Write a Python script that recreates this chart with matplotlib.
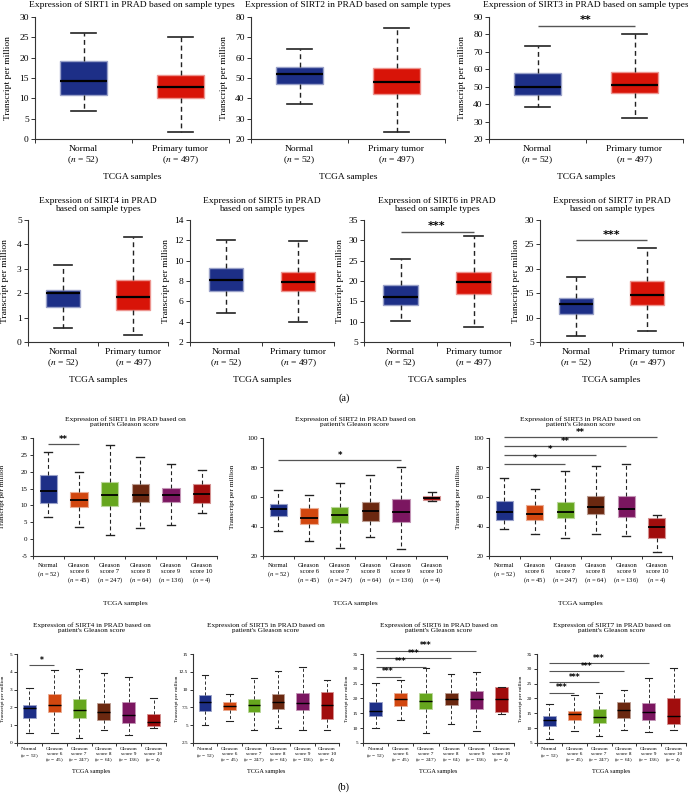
import matplotlib
matplotlib.use('Agg')
import matplotlib.pyplot as plt
from matplotlib.ticker import FixedLocator, FuncFormatter
import numpy as np

plt.rcParams['font.family'] = ['Liberation Serif', 'DejaVu Serif']
plt.rcParams['mathtext.fontset'] = 'stix'

# ---------------- data ----------------
sample_labels = ["Normal\n($n$ = 52)", "Primary tumor\n($n$ = 497)"]
gleason_labels = ["Normal\n($n$ = 52)", "Gleason\nscore 6\n($n$ = 45)", "Gleason\nscore 7\n($n$ = 247)",
                  "Gleason\nscore 8\n($n$ = 64)", "Gleason\nscore 9\n($n$ = 136)", "Gleason\nscore 10\n($n$ = 4)"]

# five-number summaries: [lower whisker, Q1, median, Q3, upper whisker]
sirt1_type = [[6.8, 10.8, 14.2, 19.3, 26.0], [1.8, 10.2, 12.7, 15.7, 25.0]]
sirt2_type = [[37.0, 47.2, 51.8, 55.3, 64.2], [23.5, 42.3, 47.9, 54.8, 74.8]]
sirt3_type = [[38.3, 45.0, 50.1, 57.6, 73.1], [32.2, 46.2, 51.2, 58.2, 80.5]]
sirt4_type = [[0.57, 1.45, 2.0, 2.12, 3.15], [0.3, 1.32, 1.86, 2.53, 4.32]]
sirt5_type = [[4.9, 7.0, 8.1, 9.25, 12.0], [4.0, 7.0, 7.9, 8.85, 11.9]]
sirt6_type = [[10.2, 14.2, 16.0, 19.1, 25.4], [8.6, 16.8, 19.8, 22.2, 31.0]]
sirt7_type = [[6.3, 10.7, 12.7, 14.1, 18.3], [7.3, 12.5, 14.7, 17.5, 24.3]]

sirt1_gleason = [[6.7, 10.7, 14.2, 19.1, 25.9], [3.6, 9.6, 11.6, 14.1, 20.0], [1.1, 9.9, 13.2, 16.9, 27.8],
                 [3.3, 10.9, 13.0, 16.3, 24.4], [4.3, 10.9, 13.0, 15.3, 22.2], [7.8, 10.6, 13.3, 16.3, 20.6]]
sirt2_gleason = [[37.0, 47.0, 52.0, 55.5, 64.5], [30.0, 41.7, 45.8, 52.7, 61.5], [25.7, 42.3, 47.5, 53.0, 69.5],
                 [33.0, 43.5, 50.8, 56.5, 74.8], [24.8, 43.2, 49.8, 58.5, 80.0], [57.5, 57.8, 59.2, 61.0, 63.5]]
sirt3_gleason = [[38.0, 44.5, 50.0, 57.5, 73.0], [35.0, 44.5, 48.5, 54.3, 65.7], [32.0, 45.8, 50.0, 56.7, 77.7],
                 [35.0, 48.5, 53.5, 60.5, 81.0], [33.5, 46.5, 52.2, 60.5, 82.5], [23.0, 32.0, 40.0, 46.0, 47.8]]
sirt4_gleason = [[0.56, 1.43, 1.97, 2.12, 3.1], [0.56, 1.75, 2.12, 2.73, 4.1], [0.3, 1.41, 1.88, 2.5, 4.13],
                 [0.75, 1.28, 1.72, 2.22, 3.95], [0.47, 1.15, 1.6, 2.3, 3.72], [0.85, 0.94, 1.17, 1.65, 2.54]]
sirt5_gleason = [[4.99, 7.01, 8.19, 9.31, 12.04], [5.6, 7.1, 7.72, 8.28, 9.36], [4.28, 6.87, 7.8, 8.75, 11.57],
                 [4.6, 7.25, 8.28, 9.36, 12.6], [4.37, 7.15, 8.14, 9.55, 13.12], [4.28, 5.84, 7.8, 9.7, 11.3]]
sirt6_gleason = [[10.2, 14.0, 15.8, 18.9, 25.3], [12.9, 17.5, 19.7, 21.7, 26.2], [8.4, 16.3, 19.2, 21.7, 30.2],
                 [11.3, 17.75, 19.9, 21.9, 28.1], [9.06, 16.6, 19.7, 22.5, 28.8], [14.7, 15.5, 19.7, 23.95, 24.0]]
sirt7_gleason = [[6.2, 10.6, 12.7, 14.0, 18.3], [9.06, 12.7, 14.7, 15.8, 21.1], [7.3, 11.8, 13.8, 16.3, 21.9],
                 [9.3, 13.5, 16.05, 18.9, 22.8], [8.7, 12.7, 15.5, 18.5, 27.0], [9.3, 11.5, 14.0, 20.0, 30.2]]

# significance brackets: (group a, group b, height, label)
sirt3_type_sig = [(0, 1, 85.0, "**")]
sirt6_type_sig = [(0, 1, 32.1, "***")]
sirt7_type_sig = [(0, 1, 25.9, "***")]
sirt1_gleason_sig = [(0, 1, 28.1, "**")]
sirt2_gleason_sig = [(0, 4, 84.9, "*")]
sirt3_gleason_sig = [(0, 2, 82.5, "*"), (0, 3, 88.5, "*"), (0, 4, 94.5, "**"), (0, 5, 100.5, "**")]
sirt4_gleason_sig = [(0, 1, 4.38, "*")]
sirt6_gleason_sig = [(0, 1, 27.3, "***"), (0, 2, 30.7, "***"), (0, 3, 33.5, "***"), (0, 4, 36.1, "***")]
sirt7_gleason_sig = [(0, 1, 22.0, "***"), (0, 2, 25.6, "***"), (0, 3, 29.2, "***"), (0, 4, 31.8, "***")]

# ---------------- styling ----------------
type_colors = ['#1d2f87', '#d81408']
gleason_colors = ['#1d2f87', '#d2470f', '#66a61e', '#6b2810', '#7b1660', '#a10d0d']

W, H = 688, 796
fig = plt.figure(figsize=(W / 100, H / 100), dpi=100)


def lighten(c, f=0.5):
    rgb = np.array(matplotlib.colors.to_rgb(c))
    return tuple(rgb + (1 - rgb) * f)


def panel(rect, stats, labels, colors, title, ylim, ystep, sig, st, yoff=None):
    l, t, r, b = rect
    ax = fig.add_axes([l / W, 1 - b / H, (r - l) / W, (b - t) / H])
    n = len(stats)
    bx = [dict(whislo=s[0], q1=s[1], med=s[2], q3=s[3], whishi=s[4], fliers=[]) for s in stats]
    pos = np.arange(n)
    art = ax.bxp(bx, positions=pos, widths=st['bw'], capwidths=st['cw'], patch_artist=True,
                 showfliers=False,
                 boxprops=dict(linewidth=st['elw']),
                 whiskerprops=dict(color='#222222', linewidth=st['wlw'], linestyle=(0, (3.5, 2.5))),
                 capprops=dict(color='#222222', linewidth=st['wlw'] * 1.2),
                 medianprops=dict(color='black', linewidth=st['mlw']))
    for p, c in zip(art['boxes'], colors):
        p.set_facecolor(c)
        p.set_edgecolor(lighten(c, 0.55))
    ax.set_xlim(-0.5, n - 0.5)
    ax.set_ylim(*ylim)
    yt = np.arange(ylim[0], ylim[1] + ystep * 0.01, ystep)
    ax.yaxis.set_major_locator(FixedLocator(yt))
    ax.yaxis.set_major_formatter(FuncFormatter(lambda v, p: '%g' % v))
    ax.set_xticks(pos)
    ax.set_xticklabels(labels, fontsize=st['cfs'], linespacing=st['ls'])
    ax.set_xticks(np.arange(n + 1) - 0.5, minor=True)
    ax.tick_params(axis='x', which='major', length=0, pad=st['cpad'])
    ax.tick_params(axis='x', which='minor', length=st['tl'], width=0.7, color='#333333')
    ax.tick_params(axis='y', length=st['tl'], width=0.7, color='#333333', labelsize=st['tfs'], pad=1.5)
    for s in ['top', 'right']:
        ax.spines[s].set_visible(False)
    for s in ['left', 'bottom']:
        ax.spines[s].set_color('#333333')
        ax.spines[s].set_linewidth(0.8)
    ax.set_ylabel('Transcript per million', fontsize=st['yfs'])
    off = st['yoff'] if yoff is None else yoff
    ax.yaxis.set_label_coords(off / (r - l), 0.5)
    cx = (l + r) / 2
    fig.text(cx / W, 1 - st['ty'] / H, title, ha='center', va='center', fontsize=st['tifs'], linespacing=1.15)
    fig.text(cx / W, 1 - st['xy'] / H, 'TCGA samples', ha='center', va='center', fontsize=st['xfs'])
    span = ylim[1] - ylim[0]
    for a, bb, y, lab in sig:
        ax.plot([a, bb], [y, y], color='#555555', lw=st['slw'], clip_on=False, solid_capstyle='butt')
        ax.text((a + bb) / 2, y + span * 0.004, lab, ha='center', va='bottom', fontsize=st['sfs'],
                fontweight='bold', family='DejaVu Sans', clip_on=False)
    return ax


row1 = dict(bw=0.48, cw=0.25, elw=1.0, wlw=1.0, mlw=1.6, cfs=6.8, ls=1.25, cpad=4, tl=3, tfs=6.8, yfs=6.8,
            yoff=-23, ty=5, xy=177, tifs=6.8, xfs=6.8, slw=1.0, sfs=8.0)
row2 = dict(row1, ty=205, xy=380, yoff=-20)
row3 = dict(bw=0.56, cw=0.27, elw=0.8, wlw=0.8, mlw=1.3, cfs=4.8, ls=1.2, cpad=5, tl=2.5, tfs=5.0, yfs=5.2,
            yoff=-28, ty=421.5, xy=603, tifs=5.4, xfs=5.2, slw=0.9, sfs=6.0)
row4 = dict(bw=0.52, cw=0.27, elw=0.6, wlw=0.65, mlw=1.0, cfs=3.9, ls=1.15, cpad=3, tl=2, tfs=3.8, yfs=3.8,
            yoff=-14, ty=627.5, xy=771, tifs=5.2, xfs=4.5, slw=0.8, sfs=5.5)

panel((35, 17, 229, 139), sirt1_type, sample_labels, type_colors,
      'Expression of SIRT1 in PRAD based on sample types', (0, 30), 5, [], row1)
panel((251, 17, 445, 139), sirt2_type, sample_labels, type_colors,
      'Expression of SIRT2 in PRAD based on sample types', (20, 80), 10, [], row1)
panel((489, 17, 683, 139), sirt3_type, sample_labels, type_colors,
      'Expression of SIRT3 in PRAD based on sample types', (20, 90), 10, sirt3_type_sig, row1)

panel((28, 220, 168, 342), sirt4_type, sample_labels, type_colors,
      'Expression of SIRT4 in PRAD\nbased on sample types', (0, 5), 1, [], row2, yoff=-19)
panel((190, 220, 334, 342), sirt5_type, sample_labels, type_colors,
      'Expression of SIRT5 in PRAD\nbased on sample types', (2, 14), 2, [], row2)
panel((364, 220, 510, 342), sirt6_type, sample_labels, type_colors,
      'Expression of SIRT6 in PRAD\nbased on sample types', (5, 35), 5, sirt6_type_sig, row2)
panel((540, 220, 683, 342), sirt7_type, sample_labels, type_colors,
      'Expression of SIRT7 in PRAD\nbased on sample types', (5, 30), 5, sirt7_type_sig, row2)

fig.text(344 / W, 1 - 398 / H, '(a)', ha='center', va='center', fontsize=7.5)

panel((33, 438, 217, 556), sirt1_gleason, gleason_labels, gleason_colors,
      "Expression of SIRT1 in PRAD based on\npatient's Gleason score", (-5, 30), 5, sirt1_gleason_sig, row3)
panel((263, 438, 447, 556), sirt2_gleason, gleason_labels, gleason_colors,
      "Expression of SIRT2 in PRAD based on\npatient's Gleason score", (20, 100), 20, sirt2_gleason_sig, row3)
panel((489, 438, 672, 556), sirt3_gleason, gleason_labels, gleason_colors,
      "Expression of SIRT3 in PRAD based on\npatient's Gleason score", (20, 100), 20, sirt3_gleason_sig, row3)

panel((17, 654, 166, 743), sirt4_gleason, gleason_labels, gleason_colors,
      "Expression of SIRT4 in PRAD based on\npatient's Gleason score", (0, 5), 1, sirt4_gleason_sig, row4,
      yoff=-12)
panel((193, 654, 339, 743), sirt5_gleason, gleason_labels, gleason_colors,
      "Expression of SIRT5 in PRAD based on\npatient's Gleason score", (2.5, 15), 2.5, [], row4)
panel((363, 654, 514, 743), sirt6_gleason, gleason_labels, gleason_colors,
      "Expression of SIRT6 in PRAD based on\npatient's Gleason score", (5, 35), 5, sirt6_gleason_sig, row4)
panel((537, 654, 686, 743), sirt7_gleason, gleason_labels, gleason_colors,
      "Expression of SIRT7 in PRAD based on\npatient's Gleason score", (5, 35), 5, sirt7_gleason_sig, row4)

fig.text(344 / W, 1 - 787 / H, '(b)', ha='center', va='center', fontsize=7.5)

fig.savefig('out.png', dpi=100, facecolor='white')
